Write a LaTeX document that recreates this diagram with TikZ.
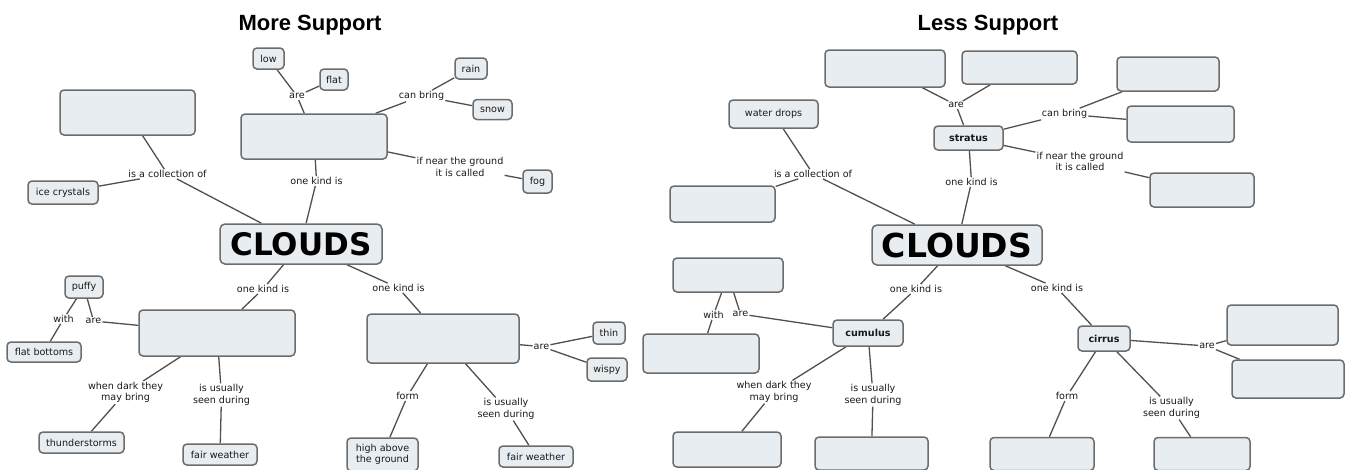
\documentclass[tikz,border=0pt]{standalone}
\usepackage{fontspec}
\setmainfont{DejaVu Sans}
\newfontfamily\dejavu{DejaVu Sans}
\newfontfamily\titlefont{Liberation Sans}
\usetikzlibrary{backgrounds}
\definecolor{boxfill}{RGB}{232,237,241}
\definecolor{boxline}{RGB}{108,108,108}
\definecolor{conncol}{RGB}{80,80,80}
\definecolor{textcol}{RGB}{25,25,25}
\newcommand\labfont{\dejavu\fontsize{9.6}{11.5}\selectfont}
\tikzset{
  sz/.style 2 args={minimum width=#1pt,minimum height=#2pt},
  box/.style={draw=boxline,line width=1.5pt,fill=boxfill,rounded corners=4pt,
    inner sep=2pt,font=\labfont,align=center,text=textcol},
  lbl/.style={inner sep=1pt,font=\labfont,align=center,text=textcol},
  boldlbl/.style={font=\labfont\bfseries},
  bigL/.style={font=\dejavu\fontsize{31}{31}\selectfont\bfseries,text=black,rounded corners=5pt},
  bigR/.style={font=\dejavu\fontsize{33}{33}\selectfont\bfseries,text=black,rounded corners=5pt},
  titletext/.style={font=\titlefont\fontsize{22}{24}\selectfont\bfseries,text=black,inner sep=0pt,anchor=base},
  conn/.style={draw=conncol,line width=1.3pt}
}
\begin{document}
\begin{tikzpicture}[x=1pt,y=-1pt]
\useasboundingbox (0,0) rectangle (1354,469);
\clip (0,0) rectangle (1354,469);
% ---------------- left map ----------------
\node[titletext] (tL) at (310,30) {More Support};
\node[box,sz={31}{21}] (low) at (268.5,58.5) {low};
\node[box,sz={28}{21}] (flat) at (334,79.5) {flat};
\node[lbl] (areS) at (297,96) {are};
\node[box,sz={32}{21}] (rain) at (471,68.5) {rain};
\node[box,sz={39}{20}] (snow) at (492.5,109.5) {snow};
\node[lbl] (canL) at (421.5,96) {can bring};
\node[box,sz={146}{45}] (strL) at (314,136.5) {};
\node[lbl] (ifL) at (460,167) {if near the ground\\it is called};
\node[box,sz={29}{23}] (fog) at (537.5,181.5) {fog};
\node[box,sz={135}{45}] (collL) at (127.5,112.5) {};
\node[lbl] (isaL) at (167.5,174) {is a collection of};
\node[box,sz={70}{23}] (ice) at (63,192.5) {ice crystals};
\node[lbl] (okL1) at (316.5,181) {one kind is};
\node[box,bigL,sz={162}{40}] (cloudsL) at (301,244) {CLOUDS};
\node[lbl] (okL2) at (263,289) {one kind is};
\node[box,sz={156}{46}] (cumL) at (217,333) {};
\node[box,sz={38}{22}] (puffy) at (84,287) {puffy};
\node[lbl] (withL) at (63.5,319) {with};
\node[lbl] (areCL) at (93.5,321) {are};
\node[box,sz={74}{20}] (flatb) at (44,352) {flat bottoms};
\node[lbl] (darkL) at (125.5,392.5) {when dark they\\may bring};
\node[box,sz={85}{21}] (thunder) at (81.5,442.5) {thunderstorms};
\node[lbl] (usL1) at (221.5,395) {is usually\\seen during};
\node[box,sz={74}{21}] (fair1) at (220,454.5) {fair weather};
\node[lbl] (okL3) at (398.5,288) {one kind is};
\node[box,sz={152}{49}] (cirL) at (443,338.5) {};
\node[lbl] (areRL) at (541.5,346.5) {are};
\node[box,sz={32}{22}] (thin) at (609,333) {thin};
\node[box,sz={40}{23}] (wispy) at (607,369.5) {wispy};
\node[lbl] (formL) at (407.5,396) {form};
\node[box,sz={71}{33}] (high) at (382.5,454.5) {high above\\the ground};
\node[lbl] (usL2) at (506,409) {is usually\\seen during};
\node[box,sz={74}{21}] (fair2) at (536,456.5) {fair weather};
% ---------------- right map ----------------
\node[titletext] (tR) at (988,30) {Less Support};
\node[box,sz={120}{37}] (rA) at (885,68.5) {};
\node[box,sz={115}{33}] (rB) at (1019.5,67.5) {};
\node[lbl] (areSR) at (956,105) {are};
\node[box,boldlbl,sz={69}{24}] (strR) at (968.5,138) {stratus};
\node[box,sz={89}{28}] (water) at (773.5,114) {water drops};
\node[lbl] (isaR) at (813,174) {is a collection of};
\node[box,sz={105}{36}] (rC) at (722.5,204) {};
\node[lbl] (okR1) at (971.5,182) {one kind is};
\node[box,bigR,sz={170}{40}] (cloudsR) at (957,245) {CLOUDS};
\node[box,sz={102}{34}] (rD) at (1168,74) {};
\node[box,sz={107}{36}] (rE) at (1180.5,124) {};
\node[lbl] (canR) at (1064.5,114) {can bring};
\node[lbl] (ifR) at (1080,161.5) {if near the ground\\it is called};
\node[box,sz={104}{34}] (rF) at (1202,190) {};
\node[lbl] (okR2) at (916,289) {one kind is};
\node[box,boldlbl,sz={70}{26}] (cumR) at (868,333) {cumulus};
\node[box,sz={110}{34}] (rG) at (728,275) {};
\node[lbl] (withR) at (713.5,315) {with};
\node[lbl] (areCR) at (740.5,314) {are};
\node[box,sz={116}{39}] (rH) at (701,353.5) {};
\node[lbl] (darkR) at (774,392) {when dark they\\may bring};
\node[box,sz={108}{35}] (rI) at (727,449.5) {};
\node[lbl] (usR1) at (873,395) {is usually\\seen during};
\node[box,sz={113}{33}] (rJ) at (871.5,453.5) {};
\node[lbl] (okR3) at (1057,288) {one kind is};
\node[box,boldlbl,sz={52}{25}] (cirR) at (1104,338.5) {cirrus};
\node[lbl] (areRR) at (1207,346) {are};
\node[box,sz={111}{40}] (rK) at (1282.5,325) {};
\node[box,sz={112}{38}] (rL) at (1288,379) {};
\node[lbl] (formR) at (1067,396) {form};
\node[box,sz={104}{33}] (rM) at (1042,454) {};
\node[lbl] (usR2) at (1171.5,408) {is usually\\seen during};
\node[box,sz={96}{33}] (rN) at (1202,454) {};
% ---------------- connectors ----------------
\begin{scope}[on background layer]
\fill[white] (0,0) rectangle (1354,469);
\draw[conn] (strL)--(areS) (areS)--(low) (areS)--(flat);
\draw[conn] (strL)--(canL) (canL)--(rain) (canL)--(snow);
\draw[conn] (strL)--(ifL) (ifL)--(fog);
\draw[conn] (cloudsL)--(isaL) (isaL)--(collL) (isaL)--(ice);
\draw[conn] (cloudsL)--(okL1) (okL1)--(strL);
\draw[conn] (cloudsL)--(okL2) (okL2)--(cumL);
\draw[conn] (cumL)--(areCL) (areCL)--(puffy);
\draw[conn] (puffy)--(withL) (withL)--(flatb);
\draw[conn] (cumL)--(darkL) (darkL)--(thunder);
\draw[conn] (cumL)--(usL1) (usL1)--(fair1);
\draw[conn] (cloudsL)--(okL3) (okL3)--(cirL);
\draw[conn] (cirL)--(areRL) (areRL)--(thin) (areRL)--(wispy);
\draw[conn] (cirL)--(formL) (formL)--(high);
\draw[conn] (cirL)--(usL2) (usL2)--(fair2);
\draw[conn] (cloudsR)--(isaR) (isaR)--(water) (isaR)--(rC);
\draw[conn] (cloudsR)--(okR1) (okR1)--(strR);
\draw[conn] (strR)--(areSR) (areSR)--(rA) (areSR)--(rB);
\draw[conn] (strR)--(canR) (canR)--(rD) (canR)--(rE);
\draw[conn] (strR)--(ifR) (ifR)--(rF);
\draw[conn] (cloudsR)--(okR2) (okR2)--(cumR);
\draw[conn] (cumR)--(areCR) (areCR)--(rG);
\draw[conn] (rG)--(withR) (withR)--(rH);
\draw[conn] (cumR)--(darkR) (darkR)--(rI);
\draw[conn] (cumR)--(usR1) (usR1)--(rJ);
\draw[conn] (cloudsR)--(okR3) (okR3)--(cirR);
\draw[conn] (cirR)--(areRR) (areRR)--(rK) (areRR)--(rL);
\draw[conn] (cirR)--(formR) (formR)--(rM);
\draw[conn] (cirR)--(usR2) (usR2)--(rN);
\end{scope}
\end{tikzpicture}
\end{document}
